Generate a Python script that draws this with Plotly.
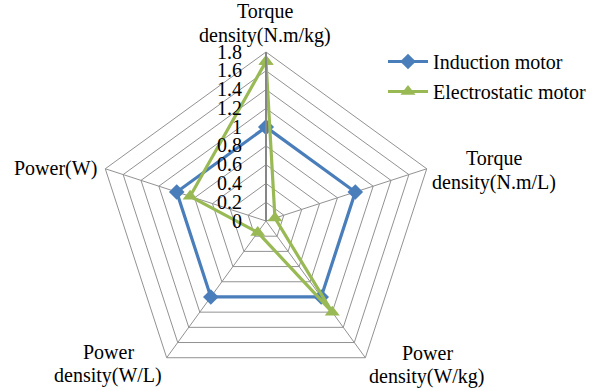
import plotly.graph_objects as go

categories = ["Torque<br>density(N.m/kg)", "Torque<br>density(N.m/L)", "Power<br>density(W/kg)",
              "Power<br>density(W/L)", "Power(W)"]
induction = [1.0, 1.0, 1.0, 1.0, 1.0]
electrostatic = [1.7, 0.1, 1.2, 0.15, 0.85]
radial_ticks = [0, 0.2, 0.4, 0.6, 0.8, 1.0, 1.2, 1.4, 1.6, 1.8]
radial_labels = ["0", "0.2", "0.4", "0.6", "0.8", "1", "1.2", "1.4", "1.6", "1.8"]

W, H = 603, 390
MT = 52
FONT = "Liberation Serif"
FS = 20
GRID = "#929292"
AXIS = "#868686"
LINE_GAP = 24

# category label centres (pixels)
label_px = [(265, 23.5), (494, 170), (427, 364.5), (108, 363.5), (56, 168.3)]


def px2paper(x, y):
    return x / W, (H - y) / (H - MT)


fig = go.Figure()
fig.add_trace(go.Scatterpolar(
    r=induction + induction[:1], theta=categories + categories[:1],
    mode="lines+markers", name="Induction motor", legendgroup="a",
    line=dict(color="#4a7ebb", width=3.2),
    marker=dict(symbol="diamond", size=12, color="#4a7ebb"),
))
fig.add_trace(go.Scatterpolar(
    r=electrostatic + electrostatic[:1], theta=categories + categories[:1],
    mode="lines+markers", name="Electrostatic motor", legendgroup="b",
    line=dict(color="#98b954", width=3.2),
    marker=dict(symbol="triangle-up", size=13, color="#98b954"),
))

annotations = []
for cat, (x, y) in zip(categories, label_px):
    lines = cat.split("<br>")
    n = len(lines)
    for i, line in enumerate(lines):
        ly_ = y + (i - (n - 1) / 2) * LINE_GAP
        ax, ay = px2paper(x, ly_)
        annotations.append(dict(text=line, x=ax, y=ay, xref="paper", yref="paper",
                                xanchor="center", yanchor="middle", showarrow=False,
                                font=dict(family=FONT, size=FS, color="black")))

lx, ly = px2paper(383, 42)
fig.update_layout(
    width=W, height=H,
    margin=dict(l=0, r=0, t=MT, b=0, autoexpand=False),
    paper_bgcolor="white", plot_bgcolor="white",
    font=dict(family=FONT, size=FS, color="black"),
    showlegend=True,
    legend=dict(x=lx, y=ly, xanchor="left", yanchor="top",
                font=dict(family=FONT, size=FS, color="black"),
                traceorder="grouped", tracegroupgap=1,
                bgcolor="rgba(0,0,0,0)", itemwidth=40),
    annotations=annotations,
    polar=dict(
        domain=dict(x=[0.16, 0.7223], y=[0, 1]),
        gridshape="linear",
        bgcolor="white",
        radialaxis=dict(
            range=[0, 1.8], tickvals=radial_ticks, ticktext=radial_labels,
            angle=90, side="counterclockwise", tickangle=90,
            showline=True, linecolor=AXIS, linewidth=2,
            gridcolor=GRID, gridwidth=1,
            ticks="outside", ticklen=16, tickcolor="rgba(0,0,0,0)",
            tickfont=dict(family=FONT, size=FS, color="black"),
        ),
        angularaxis=dict(
            categoryorder="array", categoryarray=categories,
            rotation=90, direction="clockwise",
            showline=True, linecolor=GRID, linewidth=1,
            gridcolor=GRID, gridwidth=1, ticks="", showticklabels=False,
        ),
    ),
)

fig.write_html("out.html", config={"displayModeBar": False},
               post_script="document.body.style.margin='0';")
